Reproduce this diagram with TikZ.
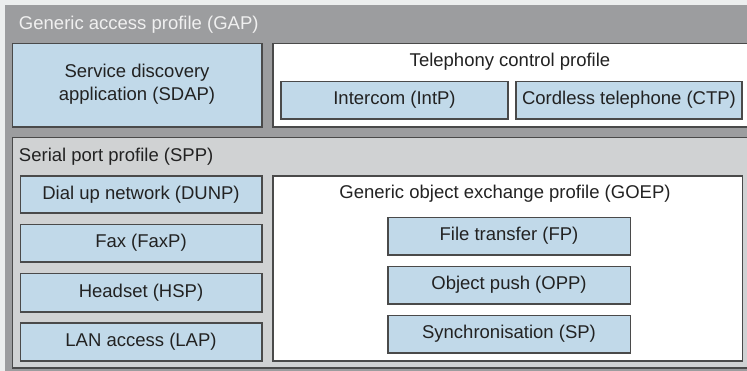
\documentclass[tikz,border=0pt]{standalone}
\usepackage{fontspec}
\setmainfont{Liberation Sans}
\begin{document}
\begin{tikzpicture}[x=1pt,y=-1pt,
  every node/.style={inner sep=0pt,outer sep=0pt},
  frame/.style={draw=boxline,line width=1.1pt},
  bluebox/.style={frame,fill=boxblue},
  whitebox/.style={frame,fill=white},
  lbl/.style={text=txt,font=\fontsize{18.5}{23}\selectfont,align=center},
]
\definecolor{bg}{HTML}{ECEEEE}
\definecolor{gapgray}{HTML}{9C9D9F}
\definecolor{sppgray}{HTML}{D0D2D3}
\definecolor{boxblue}{HTML}{C1D9E9}
\definecolor{boxline}{HTML}{4A4A4A}
\definecolor{txt}{HTML}{222222}
\useasboundingbox (0,0) rectangle (747,371);
\fill[bg] (0,0) rectangle (747,371);
% GAP
\fill[gapgray] (5,5) rectangle (747,371);
\node[anchor=west,text=white!94!black,font=\fontsize{18.5}{23}\selectfont] (gapl) at (19,25) {Generic access profile (GAP)};
% SDAP
\draw[bluebox] (12.5,43.5) rectangle (262,127);
\node[lbl] (sdap) at (137,84) {Service discovery\\application (SDAP)};
% Telephony
\draw[whitebox] (273,43.5) rectangle (750,127);
\node[lbl] (tcp) at (510,62) {Telephony control profile};
\draw[bluebox] (281,81.5) rectangle (508,119);
\node[lbl] (intp) at (394.5,100) {Intercom (IntP)};
\draw[bluebox] (516,81.5) rectangle (742,119);
\node[lbl] (ctp) at (629,100) {Cordless telephone (CTP)};
% SPP
\draw[frame,fill=sppgray] (12.5,137.5) rectangle (750,368);
\node[lbl,anchor=west] (sppl) at (19,157) {Serial port profile (SPP)};
\draw[bluebox] (20.5,176) rectangle (262,213);
\node[lbl] (dunp) at (141,194.5) {Dial up network (DUNP)};
\draw[bluebox] (20.5,224.5) rectangle (262,262);
\node[lbl] (fax) at (141,243) {Fax (FaxP)};
\draw[bluebox] (20.5,273.5) rectangle (262,312);
\node[lbl] (hsp) at (141,292.5) {Headset (HSP)};
\draw[bluebox] (20.5,323) rectangle (262,361);
\node[lbl] (lap) at (141,342) {LAN access (LAP)};
% GOEP
\draw[whitebox] (273,176) rectangle (742.5,361);
\node[lbl] (goep) at (505,194) {Generic object exchange profile (GOEP)};
\draw[bluebox] (388,217.5) rectangle (630.5,255);
\node[lbl] (fp) at (509,236) {File transfer (FP)};
\draw[bluebox] (388,266.5) rectangle (630.5,304);
\node[lbl] (opp) at (509,285) {Object push (OPP)};
\draw[bluebox] (388,315.5) rectangle (630.5,353);
\node[lbl] (sp) at (509,334) {Synchronisation (SP)};
\end{tikzpicture}
\end{document}
